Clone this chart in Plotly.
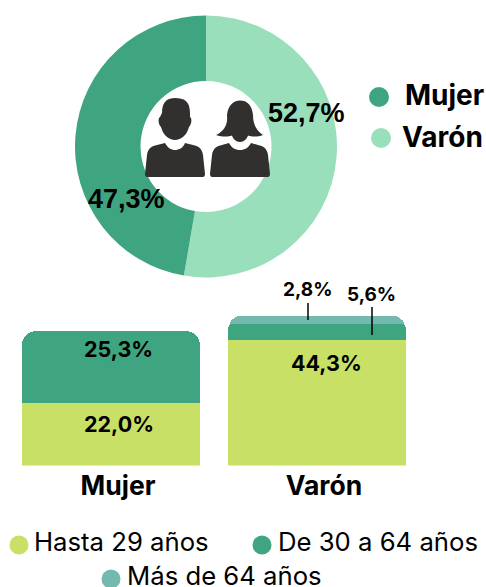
import plotly.graph_objects as go

W, H = 486, 587

# Data
sex_labels = ["Varón", "Mujer"]
sex_values = [52.7, 47.3]
sex_colors = ["#9ADFBC", "#3FA580"]

bar_categories = ["Mujer", "Varón"]
hasta_29 = [22.0, 44.3]
de_30_64 = [25.3, 5.6]
mas_64 = [0.0, 2.8]
age_names = ["Hasta 29 años", "De 30 a 64 años", "Más de 64 años"]
age_colors = ["#C9E066", "#3FA580", "#74B9AF"]


def pct(v):
    return f"{v:.1f}".replace(".", ",") + "%"


fig = go.Figure()

# Donut
fig.add_trace(go.Pie(
    labels=sex_labels, values=sex_values, sort=False, direction="clockwise", rotation=0,
    hole=0.5, marker=dict(colors=sex_colors, line=dict(width=0)), textinfo="none",
    domain=dict(x=[75 / W, 337 / W], y=[1 - 277.5 / H, 1 - 15.5 / H]), showlegend=False,
))

# Stacked bars
for name, vals, col in zip(age_names, [hasta_29, de_30_64, mas_64], age_colors):
    fig.add_trace(go.Bar(x=bar_categories, y=vals, name=name, marker=dict(color=col, line=dict(width=0)),
                         showlegend=False, xaxis="x", yaxis="y"))

# Pixel overlay helpers
def px_trace(x, y, color, size):
    fig.add_trace(go.Scatter(x=[x], y=[y], mode="markers", xaxis="x2", yaxis="y2", showlegend=False,
                             marker=dict(color=color, size=size, line=dict(width=0))))


def note(x, y, text, size, weight=400, family="Inter", anchor="center"):
    fig.add_annotation(xref="x2", yref="y2", x=x, y=y, text=text, showarrow=False, xanchor=anchor,
                       yanchor="middle", font=dict(family=family, size=size, color="#000000", weight=weight))


# Sex legend
px_trace(379, 97, sex_colors[1], 20)
px_trace(381, 138, sex_colors[0], 20)
note(444.5, 95, "Mujer", 28, 700)
note(442, 137, "Varón", 28, 700)

# Donut labels
note(306.5, 113, pct(sex_values[0]), 27, 600, "Liberation Sans")
note(126, 199, pct(sex_values[1]), 27, 600, "Liberation Sans")

# Bar labels
note(118, 348.5, pct(de_30_64[0]), 21.5, 700)
note(119, 424, pct(hasta_29[0]), 21.5, 700)
note(326, 363, pct(hasta_29[1]), 21.5, 700)
note(307, 289.5, pct(mas_64[1]), 19, 700)
note(371, 294.5, pct(de_30_64[1]), 19, 700)

# Age legend
px_trace(19, 545, age_colors[0], 19)
px_trace(262, 545, age_colors[1], 19)
px_trace(111, 579, age_colors[2], 19)
note(31.5, 541.5, age_names[0], 25.7, 400, anchor="left")
note(275.5, 541.5, age_names[1], 25.7, 400, anchor="left")
note(124.5, 575.5, age_names[2], 25.7, 400, anchor="left")

ICON = "#32302F"
man_head = ("M162 113 C162 101 168 98 175 98 C184 98 190 101 190 113 L190 117 C192 118 192 124 189 127 "
            "C187 135 181 140 175 140 C169 140 163 135 161 127 C158 124 158 118 160 117 Z")
man_body = ("M145 174 L147 155 C148 148 152 146 157 145 L165 143 C168 148 171 150 175 150 C179 150 183 148 185 143 "
            "L193 145 C198 146 202 148 203 155 L205 174 C205 176 204 177 203 177 L147 177 C146 177 145 176 145 174 Z")
woman_hair = ("M216 135 C224 131 228 125 227 115 C228 105 234 100.5 240 100.5 C247 100.5 252 105 253 115 "
              "C253 125 257 131 263 135 C258 137 252 137 248 135.5 C247 139 244 142 240 142 C236 142 233 139 232 135.5 "
              "C228 137 222 137 216 135 Z")
woman_body = ("M210 174 L212 155 C213 148 217 146 222 145 L229 143 C232 148 235 150 240 150 C245 150 248 148 251 143 "
              "L258 145 C263 146 267 148 268 155 L270 174 C270 176 269 177 268 177 L212 177 C211 177 210 176 210 174 Z")
shapes = [dict(type="path", path=p, xref="x2", yref="y2", fillcolor=ICON, line=dict(width=0), layer="above")
          for p in (man_head, man_body, woman_hair, woman_body)]
shapes += [
    dict(type="line", xref="x2", yref="y2", x0=308, x1=308, y0=303, y1=320, line=dict(color="#000000", width=1.5), layer="above"),
    dict(type="line", xref="x2", yref="y2", x0=372, x1=372, y0=307, y1=335, line=dict(color="#000000", width=1.5), layer="above"),
]

fig.update_layout(
    width=W, height=H, margin=dict(l=0, r=0, t=0, b=0), autosize=False,
    paper_bgcolor="#FFFFFF", plot_bgcolor="rgba(0,0,0,0)",
    barmode="stack", bargap=1 - 178 / 206, barcornerradius=14,
    shapes=shapes, showlegend=False,
    xaxis=dict(domain=[8 / W, 420 / W], range=[-0.5, 1.5], type="category", showgrid=False, zeroline=False,
               showline=False, ticks="", ticklabelshift=7, ticklabelstandoff=2,
               tickfont=dict(family="Inter", size=26.5, color="#000000", weight=700), anchor="y"),
    yaxis=dict(domain=[1 - 465.5 / H, 1 - 305.5 / H], range=[0, 160 / 2.84], visible=False, anchor="x"),
    xaxis2=dict(domain=[0, 1], range=[0, W], visible=False, anchor="y2"),
    yaxis2=dict(domain=[0, 1], range=[H, 0], visible=False, anchor="x2"),
)

fig.write_html("out.html", config=dict(displayModeBar=False),
               post_script="document.body.style.margin='0';document.body.style.overflow='hidden';")
